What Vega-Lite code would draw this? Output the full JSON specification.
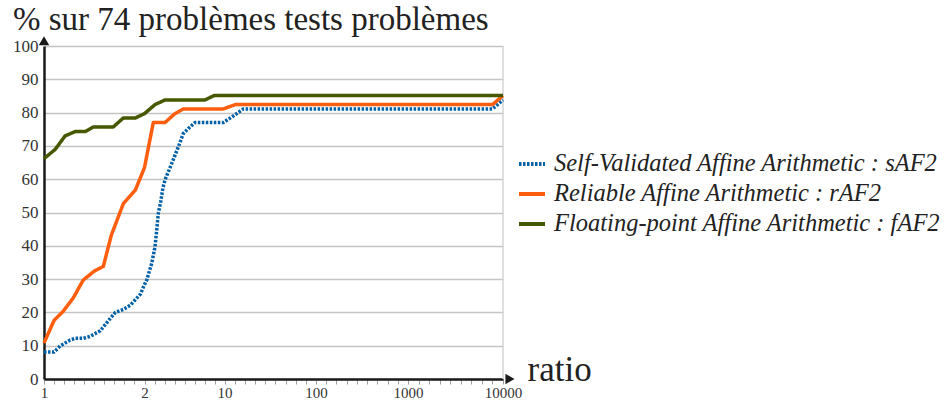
{
  "$schema": "https://vega.github.io/schema/vega-lite/v6.json",
  "autosize": {"type": "none"},
  "padding": {"left": 44, "top": 46, "right": 446, "bottom": 23},
  "width": 459,
  "height": 333,
  "background": "white",
  "title": {
    "text": "% sur 74 problèmes tests problèmes",
    "anchor": "start",
    "frame": "group",
    "dx": -31,
    "dy": 33,
    "offset": 6,
    "baseline": "alphabetic",
    "font": "Liberation Serif",
    "fontSize": 33,
    "fontWeight": "normal",
    "color": "#222222"
  },
  "config": {
    "view": {"stroke": null},
    "axis": {"labelFont": "Liberation Serif", "labelFontSize": 17, "labelColor": "#333333", "titleFont": "Liberation Serif", "titleFontWeight": "normal"},
    "legend": {"labelFont": "Liberation Serif"}
  },
  "datasets": {
    "curves": [
      {"ratio": 1.0, "pct": 8.1, "series": "Self-Validated Affine Arithmetic : sAF2"},
      {"ratio": 1.1, "pct": 8.1, "series": "Self-Validated Affine Arithmetic : sAF2"},
      {"ratio": 1.16, "pct": 9.9, "series": "Self-Validated Affine Arithmetic : sAF2"},
      {"ratio": 1.26, "pct": 11.7, "series": "Self-Validated Affine Arithmetic : sAF2"},
      {"ratio": 1.31, "pct": 12.2, "series": "Self-Validated Affine Arithmetic : sAF2"},
      {"ratio": 1.39, "pct": 12.2, "series": "Self-Validated Affine Arithmetic : sAF2"},
      {"ratio": 1.46, "pct": 12.8, "series": "Self-Validated Affine Arithmetic : sAF2"},
      {"ratio": 1.56, "pct": 14.5, "series": "Self-Validated Affine Arithmetic : sAF2"},
      {"ratio": 1.66, "pct": 18.2, "series": "Self-Validated Affine Arithmetic : sAF2"},
      {"ratio": 1.71, "pct": 20.0, "series": "Self-Validated Affine Arithmetic : sAF2"},
      {"ratio": 1.79, "pct": 20.9, "series": "Self-Validated Affine Arithmetic : sAF2"},
      {"ratio": 1.86, "pct": 22.2, "series": "Self-Validated Affine Arithmetic : sAF2"},
      {"ratio": 1.96, "pct": 25.5, "series": "Self-Validated Affine Arithmetic : sAF2"},
      {"ratio": 2.0, "pct": 28.4, "series": "Self-Validated Affine Arithmetic : sAF2"},
      {"ratio": 2.22, "pct": 29.7, "series": "Self-Validated Affine Arithmetic : sAF2"},
      {"ratio": 2.72, "pct": 34.7, "series": "Self-Validated Affine Arithmetic : sAF2"},
      {"ratio": 3.05, "pct": 39.7, "series": "Self-Validated Affine Arithmetic : sAF2"},
      {"ratio": 3.22, "pct": 44.7, "series": "Self-Validated Affine Arithmetic : sAF2"},
      {"ratio": 3.38, "pct": 49.7, "series": "Self-Validated Affine Arithmetic : sAF2"},
      {"ratio": 3.62, "pct": 53.2, "series": "Self-Validated Affine Arithmetic : sAF2"},
      {"ratio": 3.85, "pct": 57.5, "series": "Self-Validated Affine Arithmetic : sAF2"},
      {"ratio": 4.05, "pct": 59.8, "series": "Self-Validated Affine Arithmetic : sAF2"},
      {"ratio": 4.72, "pct": 64.7, "series": "Self-Validated Affine Arithmetic : sAF2"},
      {"ratio": 5.38, "pct": 69.7, "series": "Self-Validated Affine Arithmetic : sAF2"},
      {"ratio": 5.88, "pct": 73.7, "series": "Self-Validated Affine Arithmetic : sAF2"},
      {"ratio": 6.55, "pct": 75.7, "series": "Self-Validated Affine Arithmetic : sAF2"},
      {"ratio": 7.05, "pct": 77.0, "series": "Self-Validated Affine Arithmetic : sAF2"},
      {"ratio": 9.88, "pct": 77.0, "series": "Self-Validated Affine Arithmetic : sAF2"},
      {"ratio": 18.7, "pct": 79.0, "series": "Self-Validated Affine Arithmetic : sAF2"},
      {"ratio": 28.5, "pct": 81.1, "series": "Self-Validated Affine Arithmetic : sAF2"},
      {"ratio": 9000, "pct": 81.1, "series": "Self-Validated Affine Arithmetic : sAF2"},
      {"ratio": 10000, "pct": 83.8, "series": "Self-Validated Affine Arithmetic : sAF2"},
      {"ratio": 1.0, "pct": 10.8, "series": "Reliable Affine Arithmetic : rAF2"},
      {"ratio": 1.1, "pct": 17.6, "series": "Reliable Affine Arithmetic : rAF2"},
      {"ratio": 1.19, "pct": 20.3, "series": "Reliable Affine Arithmetic : rAF2"},
      {"ratio": 1.29, "pct": 24.3, "series": "Reliable Affine Arithmetic : rAF2"},
      {"ratio": 1.39, "pct": 29.7, "series": "Reliable Affine Arithmetic : rAF2"},
      {"ratio": 1.5, "pct": 32.4, "series": "Reliable Affine Arithmetic : rAF2"},
      {"ratio": 1.59, "pct": 33.8, "series": "Reliable Affine Arithmetic : rAF2"},
      {"ratio": 1.67, "pct": 43.2, "series": "Reliable Affine Arithmetic : rAF2"},
      {"ratio": 1.79, "pct": 52.7, "series": "Reliable Affine Arithmetic : rAF2"},
      {"ratio": 1.91, "pct": 56.8, "series": "Reliable Affine Arithmetic : rAF2"},
      {"ratio": 2.0, "pct": 63.5, "series": "Reliable Affine Arithmetic : rAF2"},
      {"ratio": 2.88, "pct": 77.0, "series": "Reliable Affine Arithmetic : rAF2"},
      {"ratio": 4.05, "pct": 77.0, "series": "Reliable Affine Arithmetic : rAF2"},
      {"ratio": 5.05, "pct": 79.7, "series": "Reliable Affine Arithmetic : rAF2"},
      {"ratio": 5.88, "pct": 81.1, "series": "Reliable Affine Arithmetic : rAF2"},
      {"ratio": 9.88, "pct": 81.1, "series": "Reliable Affine Arithmetic : rAF2"},
      {"ratio": 20.7, "pct": 82.4, "series": "Reliable Affine Arithmetic : rAF2"},
      {"ratio": 9000, "pct": 82.4, "series": "Reliable Affine Arithmetic : rAF2"},
      {"ratio": 10000, "pct": 85.1, "series": "Reliable Affine Arithmetic : rAF2"},
      {"ratio": 1.0, "pct": 66.2, "series": "Floating-point Affine Arithmetic : fAF2"},
      {"ratio": 1.11, "pct": 68.9, "series": "Floating-point Affine Arithmetic : fAF2"},
      {"ratio": 1.21, "pct": 73.0, "series": "Floating-point Affine Arithmetic : fAF2"},
      {"ratio": 1.31, "pct": 74.3, "series": "Floating-point Affine Arithmetic : fAF2"},
      {"ratio": 1.41, "pct": 74.3, "series": "Floating-point Affine Arithmetic : fAF2"},
      {"ratio": 1.49, "pct": 75.7, "series": "Floating-point Affine Arithmetic : fAF2"},
      {"ratio": 1.69, "pct": 75.7, "series": "Floating-point Affine Arithmetic : fAF2"},
      {"ratio": 1.79, "pct": 78.4, "series": "Floating-point Affine Arithmetic : fAF2"},
      {"ratio": 1.91, "pct": 78.4, "series": "Floating-point Affine Arithmetic : fAF2"},
      {"ratio": 2.0, "pct": 79.7, "series": "Floating-point Affine Arithmetic : fAF2"},
      {"ratio": 3.05, "pct": 82.4, "series": "Floating-point Affine Arithmetic : fAF2"},
      {"ratio": 4.05, "pct": 83.8, "series": "Floating-point Affine Arithmetic : fAF2"},
      {"ratio": 8.05, "pct": 83.8, "series": "Floating-point Affine Arithmetic : fAF2"},
      {"ratio": 8.95, "pct": 85.1, "series": "Floating-point Affine Arithmetic : fAF2"},
      {"ratio": 10000, "pct": 85.1, "series": "Floating-point Affine Arithmetic : fAF2"}
    ],
    "arrows": [
      {"ratio": 10660, "pct": 0, "shape": "triangle-right"},
      {"ratio": 1, "pct": 101.6, "shape": "triangle-up"}
    ],
    "edge": [
      {"ratio": 10000, "pct": 0, "pct2": 100}
    ]
  },
  "encoding": {
    "x": {
      "field": "ratio",
      "type": "quantitative",
      "scale": {"domain": [1, 2, 10, 100, 1000, 10000], "range": [0, 100.5, 180.5, 272, 364, 459], "nice": false, "zero": false},
      "axis": {
        "title": "ratio",
        "titleFontSize": 35,
        "titleColor": "#222222",
        "titleAlign": "left",
        "titleBaseline": "alphabetic",
        "titleAnchor": null,
        "titleX": 483,
        "titleY": 1,
        "values": [1, 1.1, 1.2, 1.3, 1.4, 1.5, 1.6, 1.7, 1.8, 1.9, 2, 3, 4, 5, 6, 7, 8, 9, 10, 20, 30, 40, 50, 60, 70, 80, 90, 100, 200, 300, 400, 500, 600, 700, 800, 900, 1000, 2000, 3000, 4000, 5000, 6000, 7000, 8000, 9000, 10000],
        "labelExpr": "indexof([1, 2, 10, 100, 1000, 10000], datum.value) >= 0 ? format(datum.value, 'd') : ''",
        "labelOverlap": false,
        "labelFlush": false,
        "labelBound": false,
        "labelFontSize": 15,
        "labelPadding": 1,
        "grid": false,
        "domainColor": "#1a1a1a",
        "domainWidth": 2.5,
        "tickColor": "#a0a0a0",
        "tickSize": 5,
        "tickWidth": 1
      }
    },
    "y": {
      "field": "pct",
      "type": "quantitative",
      "scale": {"domain": [0, 100], "nice": false},
      "axis": {
        "title": null,
        "values": [0, 10, 20, 30, 40, 50, 60, 70, 80, 90, 100],
        "labelOverlap": false,
        "grid": true,
        "gridColor": "#c4c4c4",
        "gridWidth": 1.5,
        "ticks": false,
        "labelPadding": 6,
        "domainColor": "#1a1a1a",
        "domainWidth": 2.5
      }
    }
  },
  "layer": [
    {
      "data": {"name": "edge"},
      "mark": {"type": "rule", "color": "#d4d4d4", "strokeWidth": 1.5},
      "encoding": {
        "y2": {"field": "pct2"}
      }
    },
    {
      "data": {"name": "curves"},
      "mark": {"type": "line", "strokeWidth": 3.5, "strokeCap": "butt", "strokeJoin": "round"},
      "encoding": {
        "color": {
          "field": "series",
          "type": "nominal",
          "scale": {
            "domain": ["Self-Validated Affine Arithmetic : sAF2", "Reliable Affine Arithmetic : rAF2", "Floating-point Affine Arithmetic : fAF2"],
            "range": ["#0060a8", "#ff5e0e", "#465800"]
          },
          "legend": {
            "title": null,
            "orient": "none",
            "legendX": 473,
            "legendY": 103,
            "symbolType": "stroke",
            "symbolSize": 676,
            "symbolStrokeWidth": 4,
            "labelFontSize": 24.5,
            "labelFontStyle": "italic",
            "labelColor": "#222222",
            "labelOffset": 7,
            "labelLimit": 0,
            "rowPadding": 3,
            "padding": 0
          }
        },
        "strokeDash": {
          "field": "series",
          "type": "nominal",
          "scale": {
            "domain": ["Self-Validated Affine Arithmetic : sAF2", "Reliable Affine Arithmetic : rAF2", "Floating-point Affine Arithmetic : fAF2"],
            "range": [[2.5, 1.5], [1, 0], [1, 0]]
          },
          "legend": null
        },
        "order": {"field": "ratio", "type": "quantitative"}
      }
    },
    {
      "data": {"name": "arrows"},
      "mark": {"type": "point", "filled": true, "color": "#1a1a1a", "size": 110, "opacity": 1},
      "encoding": {
        "shape": {"field": "shape", "type": "nominal", "scale": null}
      }
    }
  ]
}
